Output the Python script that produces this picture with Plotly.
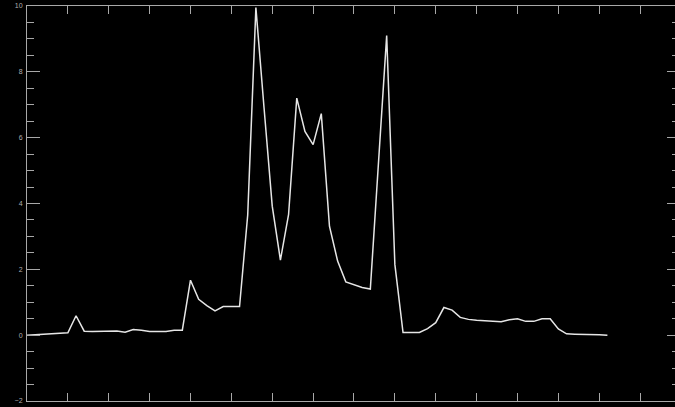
import plotly.graph_objects as go

x_vals = list(range(72))
y_vals = [
    0.00, 0.01, 0.03, 0.04, 0.05, 0.07, 0.59, 0.12, 0.11, 0.11,
    0.12, 0.13, 0.09, 0.17, 0.15, 0.11, 0.11, 0.11, 0.15, 0.15,
    1.67, 1.09, 0.90, 0.74, 0.87, 0.87, 0.87, 3.65, 9.95, 6.90,
    3.92, 2.28, 3.67, 7.20, 6.19, 5.79, 6.73, 3.31, 2.25, 1.62,
    1.54, 1.45, 1.40, 5.25, 9.10, 2.15, 0.08, 0.08, 0.08, 0.20,
    0.38, 0.84, 0.76, 0.54, 0.48, 0.45, 0.43, 0.42, 0.41, 0.47,
    0.50, 0.42, 0.42, 0.50, 0.50, 0.19, 0.04, 0.03, 0.03, 0.02,
    0.01, 0.00,
]
y_tickvals = [-2, 0, 2, 4, 6, 8, 10]
y_ticktext = ["\u22122", "0", "2", "4", "6", "8", "10"]

AX = "#a8a8a8"
fig = go.Figure()
fig.add_trace(go.Scatter(x=x_vals, y=y_vals, mode="lines",
                         line=dict(color="#e6e6e6", width=1.5),
                         hoverinfo="skip", showlegend=False))
fig.add_trace(go.Scatter(x=x_vals, y=y_vals, mode="lines", yaxis="y2",
                         line=dict(color="rgba(0,0,0,0)", width=0),
                         hoverinfo="skip", showlegend=False))

fig.update_layout(
    width=675, height=407,
    margin=dict(l=27, r=0, t=6, b=6),
    paper_bgcolor="black", plot_bgcolor="black",
    xaxis=dict(range=[0, 79.27], showgrid=False, zeroline=False,
               showline=True, linecolor=AX, linewidth=1, mirror="allticks",
               ticks="inside", ticklen=8, tickcolor=AX, tickwidth=1,
               tick0=0, dtick=20, showticklabels=False,
               minor=dict(ticks="inside", ticklen=4, tickcolor=AX, dtick=5, showgrid=False)),
    yaxis=dict(range=[-2, 10], showgrid=False, zeroline=False,
               showline=True, linecolor=AX, linewidth=1,
               ticks="inside", ticklen=13, tickcolor=AX, tickwidth=1,
               tickvals=y_tickvals, ticktext=y_ticktext,
               tickfont=dict(family="Liberation Sans, Arial", size=7, color="#b0b0b0"),
               ticklabelstandoff=2,
               minor=dict(ticks="inside", ticklen=7, tickcolor=AX, dtick=0.5, tick0=0, showgrid=False)),
    yaxis2=dict(range=[-2, 10], overlaying="y", side="right", anchor="x",
                showgrid=False, zeroline=False, showline=False,
                ticks="inside", ticklen=8, tickcolor=AX, tickwidth=1,
                tick0=0, dtick=2, showticklabels=False,
                minor=dict(ticks="inside", ticklen=3, tickcolor=AX, dtick=0.5, tick0=0, showgrid=False)),
)
fig.write_html("out.html")
